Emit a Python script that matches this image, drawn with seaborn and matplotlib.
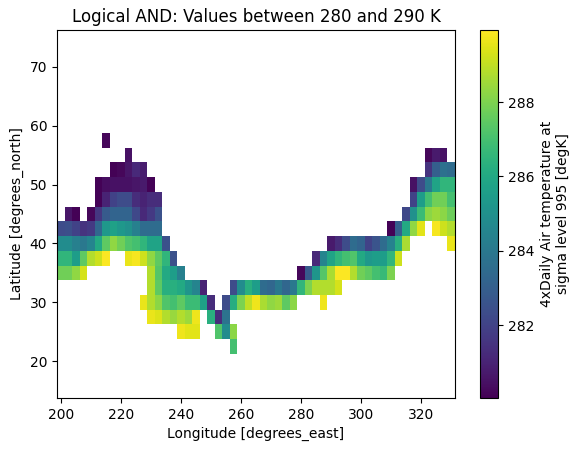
import numpy as np
import matplotlib.pyplot as plt
import seaborn as sns

# grid of the air temperature field
lons = np.arange(200.0, 330.1, 2.5)   # 53 columns
lats = np.arange(75.0, 14.9, -2.5)    # 25 rows

# cells kept by the 280 < T < 290 mask: lat -> [(first column index, values)]
cells = {
    57.5: [(6, [280.2])],
    55.0: [(9, [280.5]), (49, [280.2, 280.7, 280.5])],
    52.5: [(7, [280.1, 280.2, 280.6, 281.2, 280.8]),
           (49, [281.5, 283.0, 283.7, 283.5])],
    50.0: [(5, [280.1, 280.4, 280.5, 280.5, 280.5, 280.6, 280.7, 280.1]),
           (47, [280.5, 282.3, 284.0, 285.8, 286.5, 286.5])],
    47.5: [(5, [280.1, 281.0, 282.0, 282.3, 282.3, 281.3, 281.0, 281.3, 281.3]),
           (47, [282.0, 285.5, 287.0, 287.8, 287.8, 287.0])],
    45.0: [(1, [280.6, 280.1]), (4, [280.2]),
           (5, [281.6, 282.8, 283.2, 283.2, 283.2, 282.2, 281.2, 281.7, 282.5]),
           (46, [282.2, 285.0, 286.8, 288.2, 288.5, 288.2, 287.7])],
    42.5: [(0, [282.3, 282.4, 282.0, 281.5, 281.7, 283.3, 285.3, 285.7, 285.3,
                285.0, 284.3, 283.5, 283.5, 283.5]),
           (44, [280.1, 283.0, 286.0, 288.3, 289.5]),
           (50, [289.8, 289.2, 288.8])],
    40.0: [(0, [284.8, 284.8, 284.3, 284.0, 284.5, 286.0, 287.5, 288.3, 287.8,
                287.2, 287.0, 286.5, 285.8, 285.8, 282.5]),
           (36, [280.7, 281.3, 282.3, 283.5, 283.2, 282.0, 282.6, 283.5, 284.4,
                 286.3, 288.7]),
           (52, [289.6])],
    37.5: [(0, [286.5, 286.5, 285.5, 287.5, 288.8, 289.2, 289.9]),
           (9, [289.6, 289.8, 289.2, 288.3, 287.5, 286.5, 282.5]),
           (34, [281.2, 284.5, 285.8, 286.5, 287.0, 287.2, 286.0, 285.3, 285.5,
                 285.5, 286.5, 289.2])],
    35.0: [(0, [287.8, 287.8, 288.3, 289.3]),
           (12, [288.8, 287.3, 286.0, 285.5, 284.3]),
           (32, [280.2, 282.8, 285.2, 287.3, 288.7, 289.9, 289.9, 288.8, 287.8,
                 287.5, 287.0, 286.7, 288.0])],
    32.5: [(12, [288.8, 287.5, 286.3, 286.3, 286.0, 285.2, 284.5, 281.0]),
           (23, [282.3, 284.8, 286.3, 285.5, 283.5, 283.3, 284.0, 283.3, 284.0,
                 286.5, 288.0, 288.8, 288.8, 288.8, 289.3])],
    30.0: [(11, [289.6, 288.8, 288.2, 287.2, 287.0, 287.5, 286.8, 286.8, 285.7,
                 281.3]),
           (22, [282.3, 286.2, 288.0, 289.0, 289.7, 288.7, 288.3, 288.5, 287.5,
                 288.2]),
           (35, [289.7])],
    27.5: [(12, [289.6, 289.4, 288.8, 288.4, 288.8, 288.5, 289.7]),
           (20, [286.3, 281.3, 283.8])],
    25.0: [(16, [289.7, 289.5, 289.5]), (21, [287.2, 284.8, 288.2])],
    22.5: [(23, [287.0])],
}

air = np.full((len(lats), len(lons)), np.nan)
for lat, runs in cells.items():
    j = int(np.argmin(np.abs(lats - lat)))
    for start, vals in runs:
        air[j, start:start + len(vals)] = vals

cmap = sns.color_palette("viridis", as_cmap=True)

fig = plt.figure(figsize=(5.79, 4.53), dpi=100)
ax = fig.add_axes([57 / 579, 55 / 453, 398 / 579, 368 / 453])
cax = fig.add_axes([480 / 579, 55 / 453, 18 / 579, 368 / 453])

mesh = ax.pcolormesh(lons, lats, air, cmap=cmap, vmin=280.04, vmax=289.94,
                     shading="nearest")
ax.set_xlim(198.75, 331.25)
ax.set_ylim(13.75, 76.25)
ax.set_xticks([200, 220, 240, 260, 280, 300, 320])
ax.set_yticks([20, 30, 40, 50, 60, 70])
ax.set_xlabel("Longitude [degrees_east]")
ax.set_ylabel("Latitude [degrees_north]")
ax.set_title("Logical AND: Values between 280 and 290 K")

cb = fig.colorbar(mesh, cax=cax)
cb.set_ticks([282, 284, 286, 288])
cb.set_label("4xDaily Air temperature at\nsigma level 995 [degK]")

fig.savefig("out.png", dpi=100)
